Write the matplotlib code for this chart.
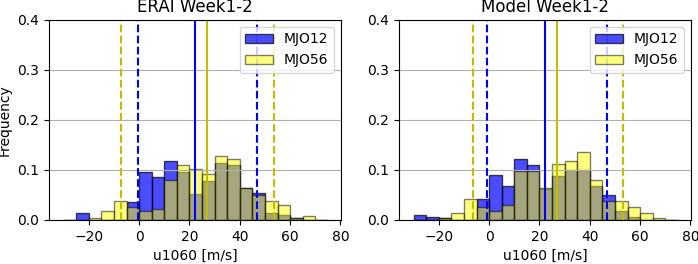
import numpy as np
import matplotlib
matplotlib.use("Agg")
import matplotlib.pyplot as plt

# left bin edges (u1060, m/s), bins 5 wide from -30 to 75
edges = np.arange(-30, 75, 5)

# ERAI frequencies per bin
erai_mjo12 = [0.0, 0.014, 0.0, 0.0, 0.0, 0.036, 0.096, 0.086, 0.118, 0.096, 0.051,
              0.077, 0.114, 0.109, 0.064, 0.054, 0.014, 0.010, 0.003, 0.0, 0.0]
erai_mjo56 = [0.0, 0.0, 0.004, 0.017, 0.038, 0.025, 0.017, 0.021, 0.080, 0.110, 0.101,
              0.092, 0.127, 0.121, 0.063, 0.049, 0.038, 0.030, 0.003, 0.007, 0.0]

# Model frequencies per bin
model_mjo12 = [0.009, 0.005, 0.003, 0.0, 0.0, 0.042, 0.090, 0.068, 0.122, 0.109, 0.061,
               0.087, 0.100, 0.100, 0.068, 0.050, 0.018, 0.006, 0.0, 0.0, 0.0]
model_mjo56 = [0.0, 0.0, 0.003, 0.013, 0.042, 0.025, 0.017, 0.029, 0.098, 0.098, 0.064,
               0.111, 0.118, 0.136, 0.079, 0.038, 0.038, 0.026, 0.013, 0.004, 0.0]

# mean and +/- spread lines
erai_lines = {"MJO12": (22.4, -0.5, 46.8), "MJO56": (26.8, -7.3, 53.6)}
model_lines = {"MJO12": (22.3, -0.7, 46.7), "MJO56": (26.8, -6.3, 53.4)}

titles = ["ERAI Week1-2", "Model Week1-2"]

fig = plt.figure(figsize=(6.98, 2.64), dpi=100)
ax1 = fig.add_axes([0.0702, 0.1667, 0.4183, 0.7576])
ax2 = fig.add_axes([0.5716, 0.1667, 0.4183, 0.7576])

panels = [(ax1, erai_mjo12, erai_mjo56, erai_lines),
          (ax2, model_mjo12, model_mjo56, model_lines)]

for i, (ax, f12, f56, lines) in enumerate(panels):
    ax.bar(edges, f12, width=5, align='edge', color='b', alpha=0.7,
           edgecolor='k', label='MJO12')
    ax.bar(edges, f56, width=5, align='edge', color='yellow', alpha=0.5,
           edgecolor='k', label='MJO56')
    m, lo, hi = lines["MJO12"]
    ax.axvline(m, color='b', lw=1.5)
    ax.axvline(lo, color='b', ls='--', lw=1.5)
    ax.axvline(hi, color='b', ls='--', lw=1.5)
    m, lo, hi = lines["MJO56"]
    ax.axvline(m, color='y', lw=1.5)
    ax.axvline(lo, color='y', ls='--', lw=1.5)
    ax.axvline(hi, color='y', ls='--', lw=1.5)
    ax.set_ylim(0, 0.4)
    ax.set_xlim(-35.8, 80.2)
    ax.set_xticks([-20, 0, 20, 40, 60, 80])
    ax.set_yticks([0.0, 0.1, 0.2, 0.3, 0.4])
    ax.grid(axis='y')
    ax.set_title(titles[i])
    ax.set_xlabel('u1060 [m/s]')
    ax.legend(loc='upper right')

ax1.set_ylabel('Frequency')

plt.savefig("out.png", dpi=100)
